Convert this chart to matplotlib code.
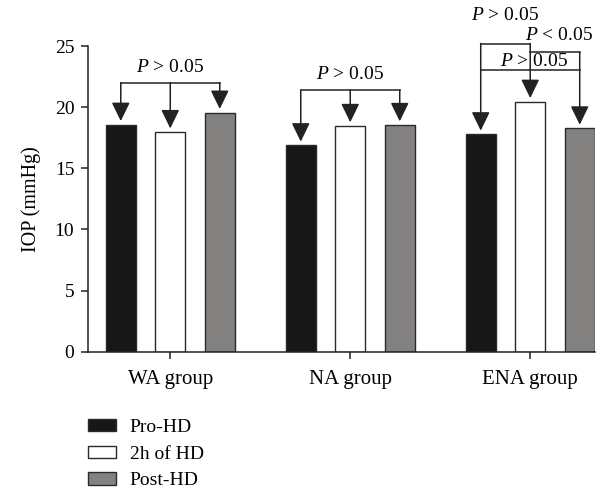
import numpy as np
import matplotlib
matplotlib.use("Agg")
import matplotlib.pyplot as plt

plt.rcParams["font.family"] = ["Liberation Serif", "DejaVu Serif"]
plt.rcParams["mathtext.fontset"] = "custom"
plt.rcParams["mathtext.rm"] = "Liberation Serif"
plt.rcParams["mathtext.it"] = "Liberation Serif:italic"

groups = ["WA group", "NA group", "ENA group"]
series = ["Pro-HD", "2h of HD", "Post-HD"]
pro_hd = [18.56, 16.88, 17.78]
two_h_hd = [17.96, 18.46, 20.44]
post_hd = [19.55, 18.54, 18.26]
colors = ["#171717", "#ffffff", "#838080"]

fig = plt.figure(figsize=(6.15, 4.9), dpi=100)
ax = fig.add_axes([0.1434, 0.2822, 0.8241, 0.6239])

x = np.arange(len(groups))
off = 0.275
w = 0.167
values = [pro_hd, two_h_hd, post_hd]
for i, (vals, c, lab) in enumerate(zip(values, colors, series)):
    ax.bar(x + (i - 1) * off, vals, w, color=c, edgecolor="#2a2a2a",
           linewidth=1.0, label=lab, zorder=2)

ax.set_xlim(-0.456, 2.36)
ax.set_ylim(0, 25)
ax.set_yticks([0, 5, 10, 15, 20, 25])
ax.set_xticks(x)
ax.set_xticklabels(groups, fontsize=15)
ax.spines["top"].set_visible(False)
ax.spines["right"].set_visible(False)
for s in ["left", "bottom"]:
    ax.spines[s].set_linewidth(1.1)
    ax.spines[s].set_color("#222222")
ax.tick_params(axis="both", direction="out", length=5, width=1.1,
               color="#222222", pad=5)
ax.tick_params(axis="y", labelsize=14)
ax.tick_params(axis="x", pad=8)
ax.set_ylabel("IOP (mmHg)", fontsize=14.5, labelpad=10)

lc = "#222222"
lw = 1.1
gap = 0.3


def hline(xa, xb, y):
    ax.plot([xa, xb], [y, y], color=lc, lw=lw, clip_on=False, zorder=3)


def arrow(xp, ytop, ybar):
    ax.annotate("", xy=(xp, ybar + gap), xytext=(xp, ytop),
                arrowprops=dict(arrowstyle="-|>,head_length=1.15,head_width=0.56",
                                mutation_scale=10, color=lc, lw=lw,
                                shrinkA=0, shrinkB=0),
                annotation_clip=False, zorder=3)


def ptext(xp, y, s):
    ax.text(xp, y, s, ha="center", va="center", fontsize=14, clip_on=False)


# WA and NA: one bracket over all three bars
for g, yb in [(0, 22.0), (1, 21.4)]:
    xs = [g - off, g, g + off]
    hline(xs[0], xs[2], yb)
    for xp, v in zip(xs, [pro_hd[g], two_h_hd[g], post_hd[g]]):
        arrow(xp, yb, v)
    ptext(g, yb + 1.25, "$P$ > 0.05")

# ENA: three comparisons
g = 2
xb, xw, xg = g - off, g, g + off
hline(xb, xw, 25.2)
hline(xw, xg, 24.5)
hline(xb, xg, 23.0)
arrow(xb, 25.2, pro_hd[g])
arrow(xw, 25.2, two_h_hd[g])
arrow(xg, 24.5, post_hd[g])
ptext((xb + xw) / 2, 27.5, "$P$ > 0.05")
ptext((xw + xg) / 2 + 0.02, 25.9, "$P$ < 0.05")
ptext(g + 0.02, 23.7, "$P$ > 0.05")

fig.legend(loc="upper left", bbox_to_anchor=(0.143, 0.145), frameon=False,
           fontsize=14, handlelength=1.45, handleheight=0.6,
           handletextpad=0.7, labelspacing=0.5, borderpad=0,
           borderaxespad=0)

fig.savefig("out.png", dpi=100)
